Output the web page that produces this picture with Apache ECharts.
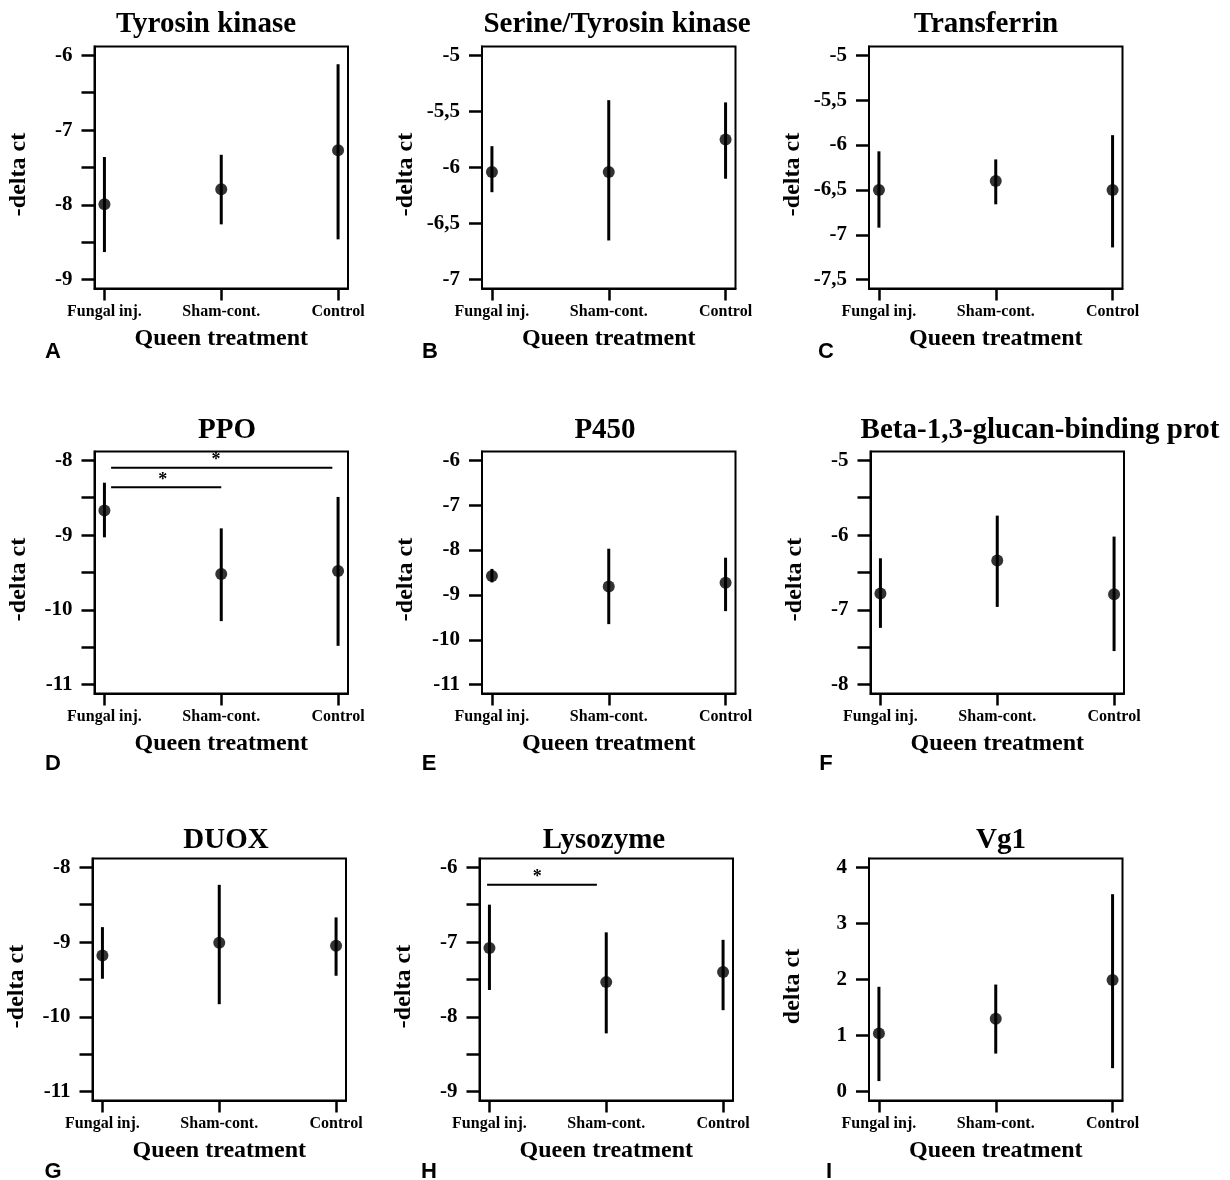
<!DOCTYPE html>
<html>
<head>
<meta charset="utf-8">
<title>Queen treatment - gene expression</title>
<script src="https://cdn.jsdelivr.net/npm/echarts@6.0.0/dist/echarts.min.js"></script>
<style>
  html, body { margin: 0; padding: 0; background: #fff; }
  #chart { width: 1230px; height: 1180px; }
</style>
</head>
<body>
<div id="chart"></div>
<script>
// groups on the x axis
const categories = ["Fungal inj.", "Sham-cont.", "Control"];

// A - Tyrosin kinase
const tyrMean = [-7.99, -7.79, -7.27];
const tyrLow = [-8.63, -8.26, -8.46];
const tyrHigh = [-7.36, -7.33, -6.12];
const tyrTicks = [-9, -8, -7, -6];

// B - Serine/Tyrosin kinase
const serMean = [-6.04, -6.04, -5.75];
const serLow = [-6.22, -6.65, -6.10];
const serHigh = [-5.81, -5.40, -5.42];
const serTicks = [-7, -6.5, -6, -5.5, -5];

// C - Transferrin
const traMean = [-6.50, -6.40, -6.50];
const traLow = [-6.92, -6.66, -7.14];
const traHigh = [-6.07, -6.16, -5.89];
const traTicks = [-7.5, -7, -6.5, -6, -5.5, -5];

// D - PPO
const ppoMean = [-8.67, -9.52, -9.48];
const ppoLow = [-9.03, -10.15, -10.48];
const ppoHigh = [-8.30, -8.91, -8.49];
const ppoTicks = [-11, -10, -9, -8];
// [from, to, y, star x]
const ppoSig = [[1.057, 2.951, -8.10, 1.955], [1.057, 2.0, -8.36, 1.50]];

// E - P450
const p450Mean = [-8.58, -8.81, -8.73];
const p450Low = [-8.72, -9.65, -9.36];
const p450High = [-8.42, -7.97, -8.17];
const p450Ticks = [-11, -10, -9, -8, -7, -6];

// F - Beta-1,3-glucan-binding protein
const betaMean = [-6.78, -6.34, -6.79];
const betaLow = [-7.24, -6.96, -7.55];
const betaHigh = [-6.31, -5.74, -6.02];
const betaTicks = [-8, -7, -6, -5];

// G - DUOX
const duoxMean = [-9.18, -9.01, -9.05];
const duoxLow = [-9.49, -9.83, -9.45];
const duoxHigh = [-8.80, -8.235, -8.67];
const duoxTicks = [-11, -10, -9, -8];

// H - Lysozyme
const lysMean = [-7.08, -7.535, -7.40];
const lysLow = [-7.64, -8.22, -7.91];
const lysHigh = [-6.50, -6.87, -6.97];
const lysTicks = [-9, -8, -7, -6];
const lysSig = [[0.98, 1.92, -6.235, 1.41]];

// I - Vg1
const vgMean = [1.04, 1.30, 1.99];
const vgLow = [0.19, 0.68, 0.42];
const vgHigh = [1.87, 1.91, 3.52];
const vgTicks = [0, 1, 2, 3, 4];

const panels = [
  { title: "Tyrosin kinase", letter: "A", yName: "-delta ct", mean: tyrMean, low: tyrLow, high: tyrHigh, ticks: tyrTicks, minor: true, sig: [] },
  { title: "Serine/Tyrosin kinase", letter: "B", yName: "-delta ct", mean: serMean, low: serLow, high: serHigh, ticks: serTicks, minor: false, sig: [] },
  { title: "Transferrin", letter: "C", yName: "-delta ct", mean: traMean, low: traLow, high: traHigh, ticks: traTicks, minor: false, sig: [] },
  { title: "PPO", letter: "D", yName: "-delta ct", mean: ppoMean, low: ppoLow, high: ppoHigh, ticks: ppoTicks, minor: true, sig: ppoSig },
  { title: "P450", letter: "E", yName: "-delta ct", mean: p450Mean, low: p450Low, high: p450High, ticks: p450Ticks, minor: false, sig: [] },
  { title: "Beta-1,3-glucan-binding prot", letter: "F", yName: "-delta ct", mean: betaMean, low: betaLow, high: betaHigh, ticks: betaTicks, minor: true, sig: [] },
  { title: "DUOX", letter: "G", yName: "-delta ct", mean: duoxMean, low: duoxLow, high: duoxHigh, ticks: duoxTicks, minor: true, sig: [] },
  { title: "Lysozyme", letter: "H", yName: "-delta ct", mean: lysMean, low: lysLow, high: lysHigh, ticks: lysTicks, minor: true, sig: lysSig },
  { title: "Vg1", letter: "I", yName: "delta ct", mean: vgMean, low: vgLow, high: vgHigh, ticks: vgTicks, minor: false, sig: [] }
];

// layout of the 3x3 figure (px)
const boxW = 253.5, boxH = 242;
const boxes = [
  [94.5, 46.5], [482, 46.5], [869, 46.5],
  [94.5, 451.5], [482, 451.5], [870.5, 451.5],
  [92.5, 858.5], [479.5, 858.5], [869, 858.5]
];
const titlePos = [
  [206, 25], [617, 25], [986, 25],
  [227, 431], [605, 431], [1040, 431],
  [226, 841], [604, 841], [1001, 841]
];
const letterPos = [
  [53, 352], [430, 352], [826, 352],
  [53, 764], [429, 764], [826, 764],
  [53, 1172], [429, 1172], [829, 1172]
];

const serif = '"Liberation Serif", "Times New Roman", serif';
const sans = '"Liberation Sans", Arial, sans-serif';

const chart = echarts.init(document.getElementById("chart"));

const grid = [], xAxis = [], yAxis = [], series = [], graphic = [];

panels.forEach((p, i) => {
  grid.push({
    left: boxes[i][0], top: boxes[i][1], width: boxW, height: boxH,
    show: true, borderColor: "#000", borderWidth: 2, backgroundColor: "#fff",
    containLabel: false, outerBoundsMode: "none"
  });

  xAxis.push({
    gridIndex: i, type: "value", min: 0.915, max: 3.085,
    axisLine: { show: true, onZero: false, lineStyle: { color: "#000", width: 2 } },
    splitLine: { show: false },
    axisTick: { show: true, customValues: [1, 2, 3], length: 12, lineStyle: { color: "#000", width: 2.5 } },
    axisLabel: {
      customValues: [1, 2, 3], margin: 15,
      formatter: (v) => categories[Math.round(v) - 1],
      color: "#000", fontFamily: serif, fontWeight: "bold", fontSize: 16
    },
    name: "Queen treatment", nameLocation: "middle", nameGap: 38,
    nameTextStyle: { color: "#000", fontFamily: serif, fontWeight: "bold", fontSize: 24 }
  });

  const lo = p.ticks[0], hi = p.ticks[p.ticks.length - 1];
  const pad = (hi - lo) * 0.039;
  let tickVals = p.ticks.slice();
  if (p.minor) {
    for (let k = 0; k < p.ticks.length - 1; k++) tickVals.push((p.ticks[k] + p.ticks[k + 1]) / 2);
  }
  yAxis.push({
    gridIndex: i, type: "value", min: lo - pad, max: hi + pad,
    axisLine: { show: true, onZero: false, lineStyle: { color: "#000", width: 2 } },
    splitLine: { show: false },
    axisTick: { show: true, customValues: tickVals, length: 13, lineStyle: { color: "#000", width: 2.5 } },
    axisLabel: {
      customValues: p.ticks, margin: 22,
      formatter: (v) => String(v).replace(".", ","),
      color: "#000", fontFamily: serif, fontWeight: "bold", fontSize: 21
    },
    name: p.yName, nameLocation: "middle", nameRotate: 90, nameGap: 64,
    nameTextStyle: { color: "#000", fontFamily: serif, fontWeight: "bold", fontSize: 24, padding: [0, 14, 0, 0] }
  });

  // error bars
  series.push({
    type: "custom", xAxisIndex: i, yAxisIndex: i, silent: true,
    encode: { x: 0, y: [1, 2] },
    data: categories.map((c, k) => [k + 1, p.low[k], p.high[k]]),
    renderItem: (params, api) => {
      const a = api.coord([api.value(0), api.value(1)]);
      const b = api.coord([api.value(0), api.value(2)]);
      return {
        type: "line",
        shape: { x1: a[0], y1: a[1], x2: b[0], y2: b[1] },
        style: { stroke: "#000", lineWidth: 3 }
      };
    }
  });

  // means
  series.push({
    type: "scatter", xAxisIndex: i, yAxisIndex: i, silent: true,
    symbol: "circle", symbolSize: 12,
    itemStyle: { color: "#000" },
    data: categories.map((c, k) => [k + 1, p.mean[k]])
  });

  // significance brackets
  if (p.sig.length) {
    series.push({
      type: "custom", xAxisIndex: i, yAxisIndex: i, silent: true,
      encode: { x: [0, 1], y: 2 },
      data: p.sig,
      renderItem: (params, api) => {
        const a = api.coord([api.value(0), api.value(2)]);
        const b = api.coord([api.value(1), api.value(2)]);
        const s = api.coord([api.value(3), api.value(2)]);
        return {
          type: "group",
          children: [
            { type: "line", shape: { x1: a[0], y1: a[1], x2: b[0], y2: b[1] }, style: { stroke: "#000", lineWidth: 2 } },
            {
              type: "text", x: s[0], y: s[1] + 2,
              style: {
                text: "*", fill: "#000", font: "bold 18px " + serif,
                align: "center", verticalAlign: "bottom",
                textAlign: "center", textVerticalAlign: "bottom"
              }
            }
          ]
        };
      }
    });
  }

  graphic.push({
    type: "text", x: titlePos[i][0], y: titlePos[i][1], silent: true,
    style: {
      text: p.title, fill: "#000", font: "bold 29px " + serif,
      textAlign: "center", textVerticalAlign: "middle"
    }
  });
  graphic.push({
    type: "text", x: letterPos[i][0], y: letterPos[i][1], silent: true,
    style: {
      text: p.letter, fill: "#000", font: "bold 22px " + sans,
      textAlign: "center", textVerticalAlign: "middle"
    }
  });
});

chart.setOption({
  backgroundColor: "#fff",
  animation: false,
  grid: grid,
  xAxis: xAxis,
  yAxis: yAxis,
  series: series,
  graphic: graphic
});
</script>
</body>
</html>
